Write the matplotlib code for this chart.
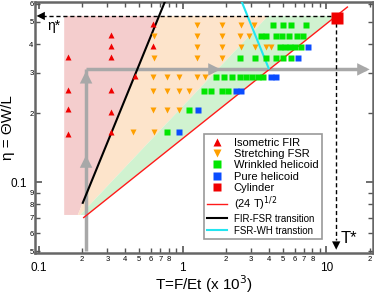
import numpy as np
import matplotlib
matplotlib.use('Agg')
import matplotlib.pyplot as plt
from matplotlib.ticker import FixedLocator, FixedFormatter

plt.rcParams['font.family'] = ['Liberation Sans', 'DejaVu Sans']

# T in units of 1e-3, eta = Theta W / L
fir_T = [0.16, 0.16, 0.16, 0.16, 0.315, 0.315, 0.315, 0.315, 0.315, 0.315, 0.47, 0.625, 0.625]
fir_eta = [0.351, 0.251, 0.209, 0.162, 0.437, 0.393, 0.351, 0.251, 0.202, 0.166, 0.290, 0.488, 0.393]

fsr_T = [1.25, 1.89, 2.53, 3.12,
         0.63, 1.25, 1.89, 2.51, 2.89,
         1.25, 1.89, 2.53, 3.17, 3.78, 4.09,
         0.63, 1.25, 1.89,
         0.625, 0.78, 0.95, 1.25, 1.42,
         0.625, 0.78, 0.94, 1.11,
         0.625, 0.78, 0.94,
         0.45, 0.63]
fsr_eta = [0.484] * 4 + [0.432] * 5 + [0.389] * 6 + [0.346] * 3 + [0.287] * 5 + \
          [0.250] * 4 + [0.206] * 3 + [0.165] * 2

wh_T = [4.26, 4.96, 5.64, 7.18,
        3.5, 3.8, 4.44, 4.95, 5.45, 6.2, 6.85,
        4.73, 5.13, 5.55, 6.02, 6.62,
        2.51, 3.17, 3.78, 4.44, 5.0, 5.64,
        1.72, 1.93, 2.22, 2.5, 2.76, 3.02, 3.33, 3.63,
        1.41, 1.57, 1.89, 2.07,
        1.11,
        0.78]
wh_eta = [0.484] * 4 + [0.432] * 7 + [0.389] * 5 + [0.346] * 6 + [0.287] * 8 + \
         [0.250] * 4 + [0.206] + [0.165]

ph_T = [7.45, 6.31, 4.09, 4.44, 2.34, 2.56, 1.27, 0.95]
ph_eta = [0.389, 0.346, 0.287, 0.287, 0.250, 0.250, 0.206, 0.165]

cyl_T = [11.9]
cyl_eta = [0.517]

eta_star = 0.53
T_star = 11.7
eta_bot = 0.072
T_left = 0.15

# transition lines (power laws through two read points)
fir_fsr = (0.202, 0.0813, 1.534)      # T0, eta0, exponent
fsr_wh_fill = (0.195, 0.0723, 0.6635)
cyan_T = [2.58, 3.97]
cyan_eta = [0.61, 0.313]


def T_of(line, eta):
    T0, e0, p = line
    return T0 * (eta / e0) ** (1.0 / p)


def T_red(eta):
    return eta ** 2 / 0.024


fig = plt.figure(figsize=(3.74, 2.94), dpi=100)
ax = fig.add_axes([0.0936, 0.1384, 0.903, 0.855])
ax.set_xscale('log')
ax.set_yscale('log')
ax.set_xlim(0.094, 21)
ax.set_ylim(0.049, 0.61)

# shaded regions
e = [eta_bot, eta_bot, eta_star, eta_star]
ax.fill([T_left, T_of(fir_fsr, eta_bot), T_of(fir_fsr, eta_star), T_left], e,
        color='#f4cdcd', lw=0, zorder=1)
ax.fill([T_of(fir_fsr, eta_bot), T_of(fsr_wh_fill, eta_bot),
         T_of(fsr_wh_fill, eta_star), T_of(fir_fsr, eta_star)], e,
        color='#fde4cb', lw=0, zorder=1)
ax.fill([T_of(fsr_wh_fill, eta_bot), T_red(eta_bot), T_red(eta_star),
         T_of(fsr_wh_fill, eta_star)], e, color='#d0f2d0', lw=0, zorder=1)

# gray arrows
gray = '#a8a8a8'
ax.plot([0.213, 0.213], [0.0504, 0.31], color=gray, lw=2.5, zorder=2, solid_capstyle='butt')
ax.plot([0.213, 19.0], [0.31, 0.31], color=gray, lw=2.5, zorder=2, solid_capstyle='butt')
ap = dict(arrowstyle='-|>,head_length=0.9,head_width=0.45', color=gray, lw=0,
          shrinkA=0, shrinkB=0)
ax.annotate('', xy=(0.213, 0.131), xytext=(0.213, 0.11), arrowprops=ap, zorder=2)
ax.annotate('', xy=(0.213, 0.305), xytext=(0.213, 0.25), arrowprops=ap, zorder=2)
ax.annotate('', xy=(1.84, 0.31), xytext=(1.3, 0.31), arrowprops=ap, zorder=2)
ax.annotate('', xy=(20.0, 0.31), xytext=(14.0, 0.31), arrowprops=ap, zorder=2)

# lines
Tr = np.array([0.205, 14.0])
ax.plot(Tr, np.sqrt(0.024 * Tr), color='#ff1a1a', lw=1.0, zorder=3, label='(24 T)$^{1/2}$')
eb = np.array([0.0813, 0.61])
ax.plot(T_of(fir_fsr, eb), eb, color='black', lw=1.5, zorder=3, label='FIR-FSR transition')
ax.plot(cyan_T, cyan_eta, color='#22e5f0', lw=1.5, zorder=3, label='FSR-WH transtion')

# eta*, T* dashed markers
ax.plot([0.105, T_star], [eta_star, eta_star], 'k--', lw=1.0, dashes=(3, 2), zorder=3)
ax.annotate('', xy=(0.0963, eta_star), xytext=(0.11, eta_star),
            arrowprops=dict(arrowstyle='-|>,head_length=0.6,head_width=0.3', color='k',
                            lw=0, shrinkA=0, shrinkB=0), zorder=3)
ax.plot([T_star, T_star], [eta_star, 0.056], 'k--', lw=1.0, dashes=(3, 2), zorder=3)
ax.annotate('', xy=(T_star, 0.0508), xytext=(T_star, 0.058),
            arrowprops=dict(arrowstyle='-|>,head_length=0.6,head_width=0.3', color='k',
                            lw=0, shrinkA=0, shrinkB=0), zorder=3)
ax.text(0.128, 0.478, 'η*', fontsize=10, ha='center', va='center')
ax.text(14.4, 0.057, 'T*', fontsize=12, ha='center', va='center')

# data points
ax.plot(fir_T, fir_eta, '^', color='#f00000', ms=5, mec='none', zorder=4, label='Isometric FIR')
ax.plot(fsr_T, fsr_eta, 'v', color='#ffa000', ms=5, mec='none', zorder=4, label='Stretching FSR')
ax.plot(wh_T, wh_eta, 's', color='#00e600', ms=4.5, mec='none', zorder=4, label='Wrinkled helicoid')
ax.plot(ph_T, ph_eta, 's', color='#0a4cff', ms=4.5, mec='none', zorder=4, label='Pure helicoid')
ax.plot(cyl_T, cyl_eta, 's', color='#f00000', ms=9, mec='none', zorder=4, label='Cylinder')

# ticks
ax.xaxis.set_major_locator(FixedLocator([0.1, 1, 10]))
ax.xaxis.set_major_formatter(FixedFormatter(['0.1', '1', '10']))
xminor = [m * d for d in (0.1, 1, 10) for m in range(2, 10)]
ax.xaxis.set_minor_locator(FixedLocator(xminor))
ax.xaxis.set_minor_formatter(FixedFormatter([str(m) if m < 9 else '' for d in (0.1, 1, 10)
                                             for m in range(2, 10)]))
ax.yaxis.set_major_locator(FixedLocator([0.1]))
ax.yaxis.set_major_formatter(FixedFormatter(['0.1']))
yminor = [m * 0.01 for m in range(2, 10)] + [m * 0.1 for m in range(2, 10)]
ax.yaxis.set_minor_locator(FixedLocator(yminor))
ax.yaxis.set_minor_formatter(FixedFormatter([str(m) for m in range(2, 10)] +
                                            [str(m) for m in range(2, 10)]))
ax.tick_params(which='both', direction='in', top=True, right=True, color='#555555')
ax.tick_params(which='major', length=5, width=1.2, labelsize=8.5, pad=6)
ax.tick_params(which='minor', length=3.5, width=1.0, labelsize=5.5, pad=2)
ax.tick_params(axis='y', which='minor', pad=1)
for s in ax.spines.values():
    s.set_color('#666666')
    s.set_linewidth(1.8)

ax.set_xlabel('T=F/Et (x 10$^3$)', fontsize=11, labelpad=0)
ax.set_ylabel('η = ΘW/L', fontsize=11)
ax.yaxis.set_label_coords(-0.06, 0.5)

h, l = ax.get_legend_handles_labels()
order = [3, 4, 5, 6, 7, 0, 1, 2]
leg = ax.legend([h[i] for i in order], [l[i] for i in order], loc='upper left',
                bbox_to_anchor=(0.5, 0.4735), numpoints=1, fontsize=8, fancybox=False,
                edgecolor='#999999', framealpha=1, labelspacing=0.12, handlelength=1.8,
                handletextpad=0.6, borderpad=0.3, borderaxespad=0)
leg.get_frame().set_linewidth(1.2)
for hd in leg.legend_handles[:5]:
    hd.set_markersize(5.5)
for t in leg.get_texts()[6:]:
    t.set_fontsize(7)

fig.savefig('out.png', dpi=100)
